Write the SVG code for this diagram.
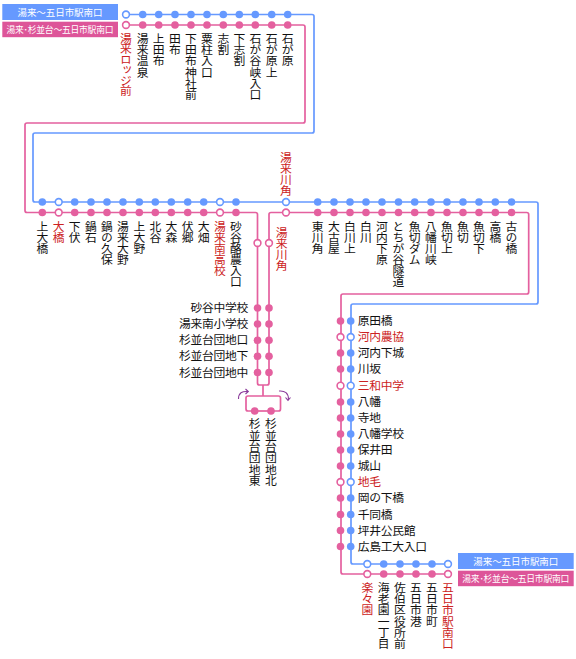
<svg xmlns="http://www.w3.org/2000/svg" width="576" height="659" viewBox="0 0 576 659">
<style>
text{font-family:"Noto Sans CJK JP","Noto Sans",sans-serif;font-size:11.800px;fill:#111;letter-spacing:-.3px}
.v{writing-mode:vertical-rl;letter-spacing:-.8px}
.t{letter-spacing:-.5px}
.k{letter-spacing:-1.300px}
.r{fill:#cc2222}
.e{text-anchor:end}
.w{fill:#fff;text-anchor:middle;letter-spacing:0;font-size:9.500px}
.w2{font-size:8.800px}
.b{fill:#6699ff}
.p{fill:#e4609f}
.lb{fill:none;stroke:#6699ff;stroke-width:1.7}
.lp{fill:none;stroke:#e4609f;stroke-width:1.7}
.ob{fill:#fff;stroke:#6699ff;stroke-width:1.6}
.op{fill:#fff;stroke:#e4609f;stroke-width:1.6}
.a{fill:none;stroke:#8a3a9a;stroke-width:1.1}
</style>
<rect width="576" height="659" fill="#fff"/>
<g id="connectors">
<path class="lb" d="M126 14.5H312a2 2 0 0 1 2 2V131a2 2 0 0 1-2 2H35a2 2 0 0 0-2 2V200a2 2 0 0 0 2 2H536a2 2 0 0 1 2 2V302a2 2 0 0 1-2 2H353a2 2 0 0 0-2 2V562a2 2 0 0 0 2 2H448"/>
<path class="lp" d="M126 25H303a2 2 0 0 1 2 2V121a2 2 0 0 1-2 2H27a2 2 0 0 0-2 2V210.500a2 2 0 0 0 2 2H255.500a2 2 0 0 1 2 2V383a2 2 0 0 0 2 2H267a2 2 0 0 0 2-2V214.500a2 2 0 0 1 2-2H526.700a2 2 0 0 1 2 2V292a2 2 0 0 1-2 2H343a2 2 0 0 0-2 2V572a2 2 0 0 0 2 2H448"/>
<path class="lp" d="M263 385V396M254.700 411H248a2 2 0 0 1-2-2V398a2 2 0 0 1 2-2H278.500a2 2 0 0 1 2 2V409a2 2 0 0 1-2 2H271"/>
<path class="lp" d="M254.700 411H271"/>
<path class="a" d="M238.500 399C238.500 393 242 391 248 391.500M245.500 389L248.300 391.500L245.500 394"/>
<path class="a" d="M279 391C285 390.500 288.500 393 288.500 399.500M285.500 397.500L288 400.300L290.500 397.500"/>
</g>
<g id="legend-top">
<rect x="2.300" y="4" width="115.700" height="16" fill="#6699ff"/>
<rect x="2.300" y="21.700" width="115.700" height="15.500" fill="#dd5599"/>
<text class="w" x="60" y="15.500" textLength="85">湯来～五日市駅南口</text>
<text class="w w2" x="60" y="32.700" textLength="107">湯来･杉並台～五日市駅南口</text>
</g>
<g id="legend-bottom">
<rect x="458" y="553" width="115.700" height="16" fill="#6699ff"/>
<rect x="458" y="570.700" width="115.700" height="15.500" fill="#dd5599"/>
<text class="w" x="515.800" y="564.500" textLength="85">湯来～五日市駅南口</text>
<text class="w w2" x="515.800" y="581.700" textLength="107">湯来･杉並台～五日市駅南口</text>
</g>
<g id="s01"><circle class="ob" cx="126" cy="14.500" r="3.400"/><circle class="op" cx="126" cy="25" r="3.400"/><text class="v r k" x="126" y="32.500">湯来ロッジ前</text></g>
<g id="s02"><circle class="b" cx="142.700" cy="14.500" r="3.800"/><circle class="p" cx="142.700" cy="25" r="3.800"/><text class="v t" x="142.700" y="32.500">湯来温泉</text></g>
<g id="s03"><circle class="b" cx="158.700" cy="14.500" r="3.800"/><circle class="p" cx="158.700" cy="25" r="3.800"/><text class="v t" x="158.700" y="32.500">上田布</text></g>
<g id="s04"><circle class="b" cx="175" cy="14.500" r="3.800"/><circle class="p" cx="175" cy="25" r="3.800"/><text class="v t" x="175" y="32.500">田布</text></g>
<g id="s05"><circle class="b" cx="191" cy="14.500" r="3.800"/><circle class="p" cx="191" cy="25" r="3.800"/><text class="v t" x="191" y="32.500">下田布神社前</text></g>
<g id="s06"><circle class="b" cx="207" cy="14.500" r="3.800"/><circle class="p" cx="207" cy="25" r="3.800"/><text class="v t" x="207" y="32.500">粟柱入口</text></g>
<g id="s07"><circle class="b" cx="223.300" cy="14.500" r="3.800"/><circle class="p" cx="223.300" cy="25" r="3.800"/><text class="v t" x="223.300" y="32.500">志割</text></g>
<g id="s08"><circle class="b" cx="239.300" cy="14.500" r="3.800"/><circle class="p" cx="239.300" cy="25" r="3.800"/><text class="v t" x="239.300" y="32.500">下志割</text></g>
<g id="s09"><circle class="b" cx="255.300" cy="14.500" r="3.800"/><circle class="p" cx="255.300" cy="25" r="3.800"/><text class="v t" x="255.300" y="32.500">石が谷峡入口</text></g>
<g id="s10"><circle class="b" cx="271.700" cy="14.500" r="3.800"/><circle class="p" cx="271.700" cy="25" r="3.800"/><text class="v t" x="271.700" y="32.500">石が原上</text></g>
<g id="s11"><circle class="b" cx="287.700" cy="14.500" r="3.800"/><circle class="p" cx="287.700" cy="25" r="3.800"/><text class="v t" x="287.700" y="32.500">石が原</text></g>
<g id="s12"><circle class="b" cx="42.300" cy="202" r="3.800"/><circle class="p" cx="42.300" cy="212.500" r="3.800"/><text class="v" x="42.300" y="220.500">上大橋</text></g>
<g id="s13"><circle class="ob" cx="58.700" cy="202" r="3.400"/><circle class="op" cx="58.700" cy="212.500" r="3.400"/><text class="v r" x="58.700" y="220.500">大橋</text></g>
<g id="s14"><circle class="b" cx="74.700" cy="202" r="3.800"/><circle class="p" cx="74.700" cy="212.500" r="3.800"/><text class="v" x="74.700" y="220.500">下伏</text></g>
<g id="s15"><circle class="b" cx="91" cy="202" r="3.800"/><circle class="p" cx="91" cy="212.500" r="3.800"/><text class="v" x="91" y="220.500">鍋石</text></g>
<g id="s16"><circle class="b" cx="107" cy="202" r="3.800"/><circle class="p" cx="107" cy="212.500" r="3.800"/><text class="v" x="107" y="220.500">鍋の久保</text></g>
<g id="s17"><circle class="b" cx="123" cy="202" r="3.800"/><circle class="p" cx="123" cy="212.500" r="3.800"/><text class="v" x="123" y="220.500">湯来大野</text></g>
<g id="s18"><circle class="b" cx="139.300" cy="202" r="3.800"/><circle class="p" cx="139.300" cy="212.500" r="3.800"/><text class="v" x="139.300" y="220.500">上大野</text></g>
<g id="s19"><circle class="b" cx="155.300" cy="202" r="3.800"/><circle class="p" cx="155.300" cy="212.500" r="3.800"/><text class="v" x="155.300" y="220.500">北谷</text></g>
<g id="s20"><circle class="b" cx="171.300" cy="202" r="3.800"/><circle class="p" cx="171.300" cy="212.500" r="3.800"/><text class="v" x="171.300" y="220.500">大森</text></g>
<g id="s21"><circle class="b" cx="187.700" cy="202" r="3.800"/><circle class="p" cx="187.700" cy="212.500" r="3.800"/><text class="v" x="187.700" y="220.500">伏郷</text></g>
<g id="s22"><circle class="b" cx="203.700" cy="202" r="3.800"/><circle class="p" cx="203.700" cy="212.500" r="3.800"/><text class="v" x="203.700" y="220.500">大畑</text></g>
<g id="s23"><circle class="ob" cx="220" cy="202" r="3.400"/><circle class="op" cx="220" cy="212.500" r="3.400"/><text class="v r" x="220" y="220.500">湯来南高校</text></g>
<g id="s24"><circle class="b" cx="236" cy="202" r="3.800"/><circle class="p" cx="236" cy="212.500" r="3.800"/><text class="v" x="236" y="220.500">砂谷酪農入口</text></g>
<g id="s25"><circle class="ob" cx="286" cy="202" r="3.400"/><circle class="op" cx="286" cy="212.500" r="3.400"/><text class="v r" x="286" y="152">湯来川角</text></g>
<g id="s26"><circle class="b" cx="317.700" cy="202" r="3.800"/><circle class="p" cx="317.700" cy="212.500" r="3.800"/><text class="v" x="317.700" y="220.500">東川角</text></g>
<g id="s27"><circle class="b" cx="334" cy="202" r="3.800"/><circle class="p" cx="334" cy="212.500" r="3.800"/><text class="v" x="334" y="220.500">大古屋</text></g>
<g id="s28"><circle class="b" cx="350" cy="202" r="3.800"/><circle class="p" cx="350" cy="212.500" r="3.800"/><text class="v" x="350" y="220.500">白川上</text></g>
<g id="s29"><circle class="b" cx="366" cy="202" r="3.800"/><circle class="p" cx="366" cy="212.500" r="3.800"/><text class="v" x="366" y="220.500">白川</text></g>
<g id="s30"><circle class="b" cx="382" cy="202" r="3.800"/><circle class="p" cx="382" cy="212.500" r="3.800"/><text class="v" x="382" y="220.500">河内下原</text></g>
<g id="s31"><circle class="b" cx="398.500" cy="202" r="3.800"/><circle class="p" cx="398.500" cy="212.500" r="3.800"/><text class="v" x="398.500" y="220.500">とちが谷隧道</text></g>
<g id="s32"><circle class="b" cx="414.700" cy="202" r="3.800"/><circle class="p" cx="414.700" cy="212.500" r="3.800"/><text class="v" x="414.700" y="220.500">魚切ダム</text></g>
<g id="s33"><circle class="b" cx="431" cy="202" r="3.800"/><circle class="p" cx="431" cy="212.500" r="3.800"/><text class="v" x="431" y="220.500">八幡川峡</text></g>
<g id="s34"><circle class="b" cx="447" cy="202" r="3.800"/><circle class="p" cx="447" cy="212.500" r="3.800"/><text class="v" x="447" y="220.500">魚切上</text></g>
<g id="s35"><circle class="b" cx="463" cy="202" r="3.800"/><circle class="p" cx="463" cy="212.500" r="3.800"/><text class="v" x="463" y="220.500">魚切</text></g>
<g id="s36"><circle class="b" cx="479" cy="202" r="3.800"/><circle class="p" cx="479" cy="212.500" r="3.800"/><text class="v" x="479" y="220.500">魚切下</text></g>
<g id="s37"><circle class="b" cx="495.300" cy="202" r="3.800"/><circle class="p" cx="495.300" cy="212.500" r="3.800"/><text class="v" x="495.300" y="220.500">高橋</text></g>
<g id="s38"><circle class="b" cx="511.500" cy="202" r="3.800"/><circle class="p" cx="511.500" cy="212.500" r="3.800"/><text class="v" x="511.500" y="220.500">古の橋</text></g>
<g id="b01"><circle class="op" cx="257.500" cy="243" r="3.400"/><circle class="op" cx="269" cy="243" r="3.400"/><text class="v r" x="281.700" y="227">湯来川角</text></g>
<g id="b02"><circle class="p" cx="257.500" cy="308" r="3.800"/><circle class="p" cx="269" cy="308" r="3.800"/><text class="e" x="248" y="312">砂谷中学校</text></g>
<g id="b03"><circle class="p" cx="257.500" cy="324" r="3.800"/><circle class="p" cx="269" cy="324" r="3.800"/><text class="e" x="248" y="328">湯来南小学校</text></g>
<g id="b04"><circle class="p" cx="257.500" cy="340.300" r="3.800"/><circle class="p" cx="269" cy="340.300" r="3.800"/><text class="e" x="248" y="344.300">杉並台団地口</text></g>
<g id="b05"><circle class="p" cx="257.500" cy="356.300" r="3.800"/><circle class="p" cx="269" cy="356.300" r="3.800"/><text class="e" x="248" y="360.300">杉並台団地下</text></g>
<g id="b06"><circle class="p" cx="257.500" cy="372.500" r="3.800"/><circle class="p" cx="269" cy="372.500" r="3.800"/><text class="e" x="248" y="376.500">杉並台団地中</text></g>
<g id="b07"><circle class="p" cx="254.700" cy="411" r="3.800"/><text class="v t" x="254.700" y="418">杉並台団地東</text></g>
<g id="b08"><circle class="p" cx="271" cy="411" r="3.800"/><text class="v t" x="271" y="418">杉並台団地北</text></g>
<g id="c01"><circle class="p" cx="340.500" cy="321" r="3.800"/><circle class="b" cx="350.700" cy="321" r="3.800"/><text x="357.700" y="325">原田橋</text></g>
<g id="c02"><circle class="op" cx="340.500" cy="337" r="3.400"/><circle class="ob" cx="350.700" cy="337" r="3.400"/><text class="r" x="357.700" y="341">河内農協</text></g>
<g id="c03"><circle class="p" cx="340.500" cy="353" r="3.800"/><circle class="b" cx="350.700" cy="353" r="3.800"/><text x="357.700" y="357">河内下城</text></g>
<g id="c04"><circle class="p" cx="340.500" cy="369" r="3.800"/><circle class="b" cx="350.700" cy="369" r="3.800"/><text x="357.700" y="373">川坂</text></g>
<g id="c05"><circle class="op" cx="340.500" cy="385.700" r="3.400"/><circle class="ob" cx="350.700" cy="385.700" r="3.400"/><text class="r" x="357.700" y="389.700">三和中学</text></g>
<g id="c06"><circle class="p" cx="340.500" cy="402" r="3.800"/><circle class="b" cx="350.700" cy="402" r="3.800"/><text x="357.700" y="406">八幡</text></g>
<g id="c07"><circle class="p" cx="340.500" cy="418" r="3.800"/><circle class="b" cx="350.700" cy="418" r="3.800"/><text x="357.700" y="422">寺地</text></g>
<g id="c08"><circle class="p" cx="340.500" cy="434" r="3.800"/><circle class="b" cx="350.700" cy="434" r="3.800"/><text x="357.700" y="438">八幡学校</text></g>
<g id="c09"><circle class="p" cx="340.500" cy="450" r="3.800"/><circle class="b" cx="350.700" cy="450" r="3.800"/><text x="357.700" y="454">保井田</text></g>
<g id="c10"><circle class="p" cx="340.500" cy="466" r="3.800"/><circle class="b" cx="350.700" cy="466" r="3.800"/><text x="357.700" y="470">城山</text></g>
<g id="c11"><circle class="op" cx="340.500" cy="482" r="3.400"/><circle class="ob" cx="350.700" cy="482" r="3.400"/><text class="r" x="357.700" y="486">地毛</text></g>
<g id="c12"><circle class="p" cx="340.500" cy="498" r="3.800"/><circle class="b" cx="350.700" cy="498" r="3.800"/><text x="357.700" y="502">岡の下橋</text></g>
<g id="c13"><circle class="p" cx="340.500" cy="514.500" r="3.800"/><circle class="b" cx="350.700" cy="514.500" r="3.800"/><text x="357.700" y="518.500">千同橋</text></g>
<g id="c14"><circle class="p" cx="340.500" cy="530.500" r="3.800"/><circle class="b" cx="350.700" cy="530.500" r="3.800"/><text x="357.700" y="534.500">坪井公民館</text></g>
<g id="c15"><circle class="p" cx="340.500" cy="546.500" r="3.800"/><circle class="b" cx="350.700" cy="546.500" r="3.800"/><text x="357.700" y="550.500">広島工大入口</text></g>
<g id="d01"><circle class="ob" cx="367.300" cy="564" r="3.400"/><circle class="op" cx="367.300" cy="574" r="3.400"/><text class="v r t" x="367.300" y="581.500">楽々園</text></g>
<g id="d02"><circle class="b" cx="383.700" cy="564" r="3.800"/><circle class="p" cx="383.700" cy="574" r="3.800"/><text class="v t" x="383.700" y="581.500">海老園一丁目</text></g>
<g id="d03"><circle class="b" cx="400" cy="564" r="3.800"/><circle class="p" cx="400" cy="574" r="3.800"/><text class="v t" x="400" y="581.500">佐伯区役所前</text></g>
<g id="d04"><circle class="b" cx="416" cy="564" r="3.800"/><circle class="p" cx="416" cy="574" r="3.800"/><text class="v t" x="416" y="581.500">五日市港</text></g>
<g id="d05"><circle class="b" cx="432" cy="564" r="3.800"/><circle class="p" cx="432" cy="574" r="3.800"/><text class="v t" x="432" y="581.500">五日市町</text></g>
<g id="d06"><circle class="ob" cx="448" cy="564" r="3.400"/><circle class="op" cx="448" cy="574" r="3.400"/><text class="v r t" x="448" y="581.500">五日市駅南口</text></g>
</svg>
